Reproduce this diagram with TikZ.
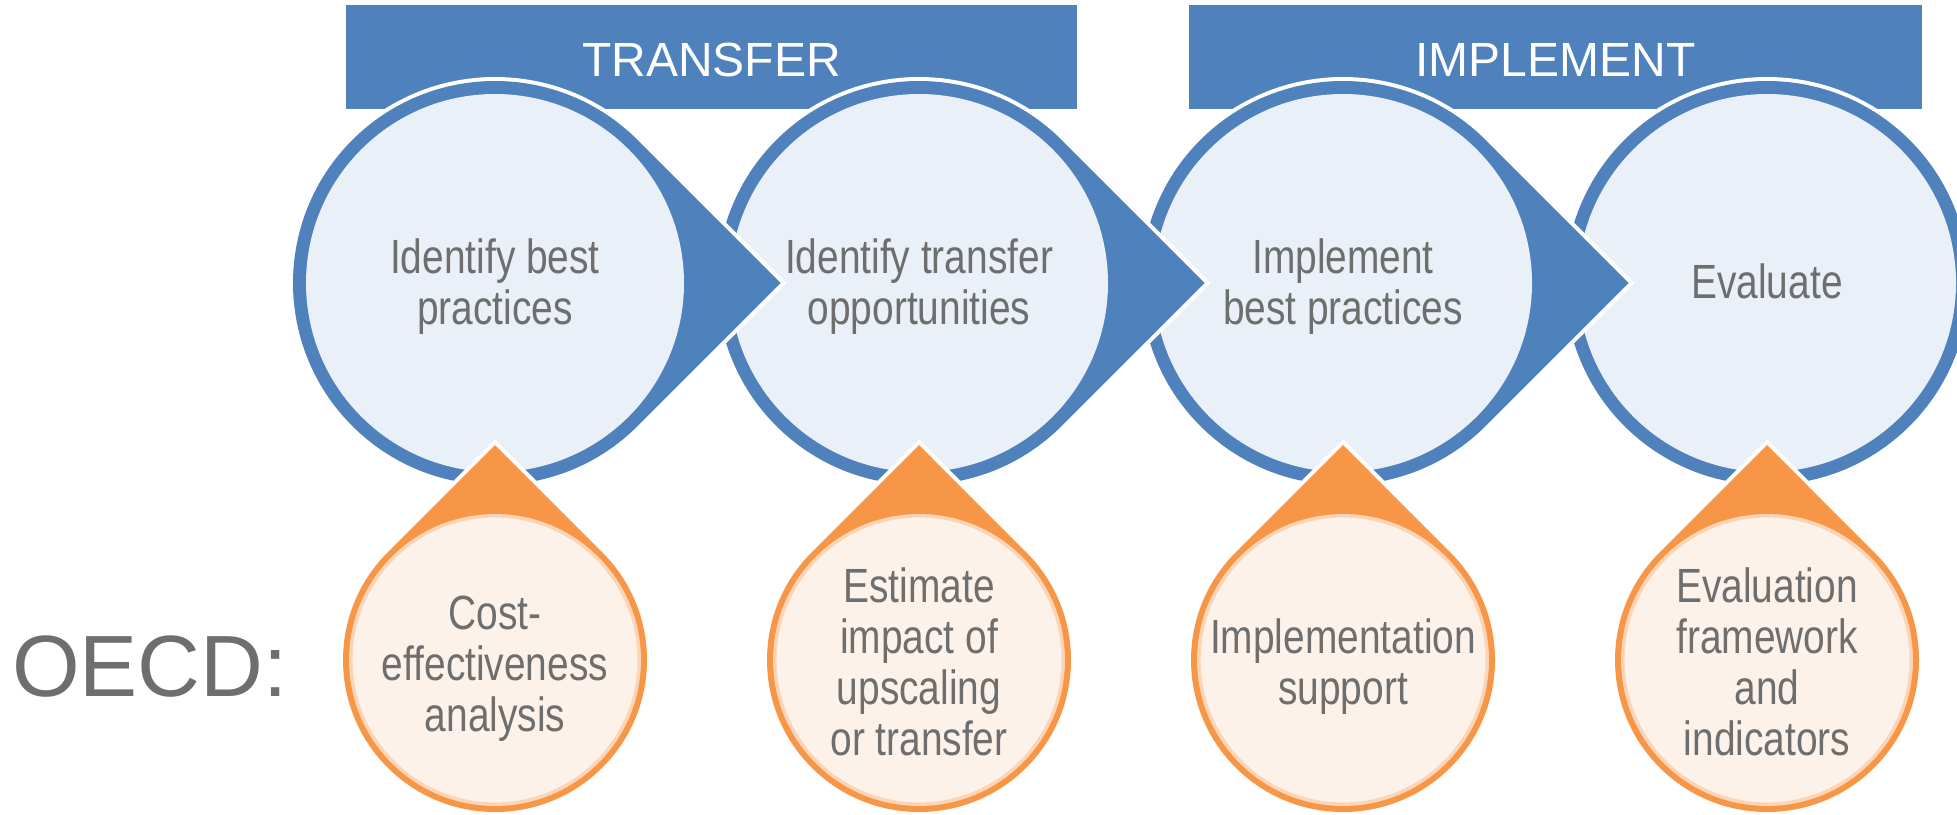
\documentclass[tikz,border=0pt]{standalone}
\usepackage{fontspec}
\setmainfont{Liberation Sans}
\newfontfamily\narrowfont[FakeStretch=0.81]{Liberation Sans}
\definecolor{accblue}{HTML}{4F81BD}
\definecolor{lightblue}{HTML}{EAF0F8}
\definecolor{accorange}{HTML}{F79646}
\definecolor{peach}{HTML}{FBD5B5}
\definecolor{cream}{HTML}{FDF2EA}
\definecolor{txtgray}{HTML}{6E6E6E}
\tikzset{
  bannerbox/.style={fill=accblue},
  bannertext/.style={inner sep=0pt, text=white, font=\fontsize{48}{51}\selectfont},
  circletext/.style={inner sep=0pt, align=center, text=txtgray, font=\narrowfont\fontsize{48}{51}\selectfont},
  dropoutline/.style={draw=white, line width=8pt},
  bluefill/.style={fill=accblue},
  bluecore/.style={fill=lightblue},
  orangefill/.style={fill=accorange},
  orangecore/.style={fill=cream, draw=peach, line width=3.5pt},
}
\begin{document}
\begin{tikzpicture}[x=1pt,y=-1pt]
\useasboundingbox (0,0) rectangle (1957,814);
\fill[white] (0,0) rectangle (1957,814);
% banners
\fill[bannerbox] (346,5) rectangle (1077,109);
\fill[bannerbox] (1189,5) rectangle (1922,109);
\node[bannertext] (transfer) at (711.5,59.5) {TRANSFER};
\node[bannertext] (implement) at (1555.5,59.5) {IMPLEMENT};
% last blue circle (no arrow)
\path[dropoutline] (1767,283) circle[radius=202];
\fill[bluefill] (1767,283) circle[radius=202];
\fill[bluecore] (1767,283) circle[radius=189];
% blue drops, drawn right to left
\foreach \cx in {1343,919,495}{
  \path[dropoutline] (\cx,283) ++(45:202) arc[start angle=45,end angle=315,radius=202] -- (\cx+285.7,283) -- cycle;
  \fill[bluefill] (\cx,283) ++(45:202) arc[start angle=45,end angle=315,radius=202] -- (\cx+285.7,283) -- cycle;
  \fill[bluecore] (\cx,283) circle[radius=189];
}
% orange drops
\foreach \cx in {495,919,1343,1767}{
  \path[dropoutline] (\cx,660) ++(315:152) arc[start angle=315,end angle=585,radius=152] -- (\cx,445) -- cycle;
  \fill[orangefill] (\cx,660) ++(315:152) arc[start angle=315,end angle=585,radius=152] -- (\cx,445) -- cycle;
  \path[orangecore] (\cx,660) circle[radius=144.2];
}
% texts in blue circles
\node[circletext] (b1) at (495,287) {Identify best\\practices};
\node[circletext] (b2) at (919,287) {Identify transfer\\opportunities};
\node[circletext] (b3) at (1343,287) {Implement\\best practices};
\node[circletext] (b4) at (1767,281) {Evaluate};
% texts in orange circles
\node[circletext] (o1) at (495,669) {Cost-\\effectiveness\\analysis};
\node[circletext] (o2) at (919,662) {Estimate\\impact of\\upscaling\\or transfer};
\node[circletext] (o3) at (1343,667) {Implementation\\support};
\node[circletext] (o4) at (1767,662) {Evaluation\\framework\\and\\indicators};
% label
\node[inner sep=0pt, anchor=west, text=txtgray, font=\fontsize{87}{90}\selectfont] (oecd) at (12,667) {OECD:};
\end{tikzpicture}
\end{document}
